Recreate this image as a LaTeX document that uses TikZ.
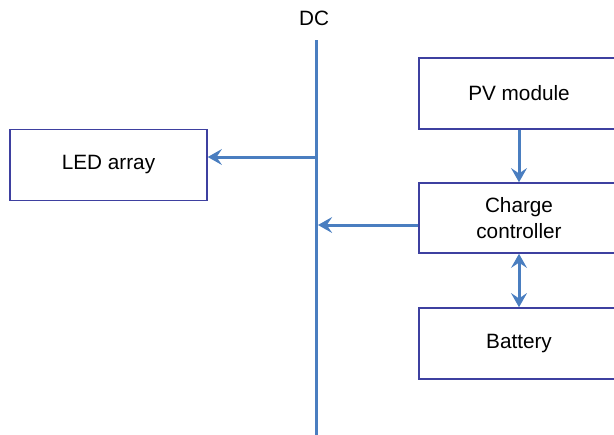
\documentclass[tikz,border=0pt]{standalone}
\usepackage{fontspec}
\setmainfont{Liberation Sans}
\usepackage{xcolor}
\usetikzlibrary{arrows.meta, positioning, calc}

\definecolor{rub}{RGB}{62,64,160}
\definecolor{vod}{RGB}{74,126,192}

\begin{document}
\begin{tikzpicture}[
  x=0.02cm, y=-0.02cm,
  blok/.style={draw=rub, line width=0.9pt, align=center, inner sep=0pt,
               font=\fontsize{11.8}{14.5}\selectfont,
               minimum width=4cm, minimum height=1.42cm},
  sab/.style={draw=vod, line width=1.7pt},
  pr/.style={sab, -{Stealth[length=8pt, width=9pt, inset=3pt]}},
  dpr/.style={sab, {Stealth[length=8pt, width=9pt, inset=3pt]}-{Stealth[length=8pt, width=9pt, inset=3pt]}},
  ozn/.style={font=\fontsize{11.8}{14}\selectfont, inner sep=0pt}
]
  \useasboundingbox (0,0) rectangle (614,434);

  \node[blok, minimum width=3.94cm] (led) at (108.5,165) {LED array};
  \node[blok] (pv) at (519,93.5) {PV module};
  \node[blok, minimum height=1.4cm] (ctrl) at (519,218) {Charge\\controller};
  \node[blok] (bat) at (519,343.5) {Battery};

  % DC bus
  \coordinate (gore) at (316,40);
  \coordinate (dole) at (316,436);
  \node[ozn] (dc) at (314,18) {DC};
  \draw[sab] (gore) -- (dole);

  \coordinate (odvL) at (316,157);
  \coordinate (odvC) at (318,225);

  \draw[pr] (odvL) -- (odvL -| led.east);
  \draw[pr] (odvC -| ctrl.west) -- (odvC);
  \draw[pr] (pv) -- (ctrl);
  \draw[dpr] (ctrl) -- (bat);
\end{tikzpicture}
\end{document}
